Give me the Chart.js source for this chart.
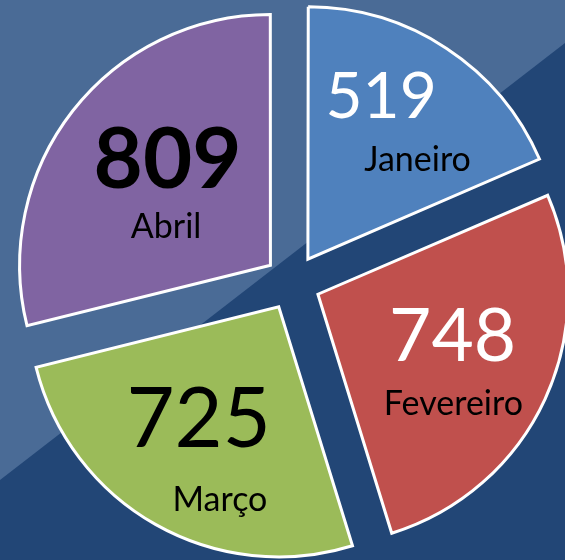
<!DOCTYPE html>
<html>
<head>
<meta charset="utf-8">
<script src="https://cdn.jsdelivr.net/npm/chart.js@4.4.1/dist/chart.umd.min.js"></script>
<style>
  body { margin: 0; background: #224676; }
  #wrap { width: 565px; height: 560px; }
</style>
</head>
<body>
<div id="wrap"><canvas id="pieChart" width="565" height="560"></canvas></div>
<script>
const meses = ["Janeiro", "Fevereiro", "Março", "Abril"];
const valores = [519, 748, 725, 809];
const cores = ["#4f81bd", "#c0504d", "#9bbb59", "#8064a2"];

// where each label sits inside its slice: angle shift from slice middle (deg), fraction of radius
const posValor = [[-8.0, 0.828], [-6.6, 0.674], [5.5, 0.656], [7.0, 0.707]];
const posNome = [[12.0, 0.703], [12.05, 0.804], [-10.9, 0.913], [-13.9, 0.554]];
const estiloValor = [
  { size: 64, weight: "normal", color: "#ffffff" },
  { size: 73, weight: "normal", color: "#ffffff" },
  { size: 83, weight: "normal", color: "#000000" },
  { size: 85, weight: "bold", color: "#000000" },
];
const tamNome = 34;
const fonte = "Lato, 'Open Sans', sans-serif";

// two tone diagonal background
const fundo = {
  id: "fundo",
  beforeDraw(chart) {
    const ctx = chart.ctx;
    const w = chart.width, h = chart.height;
    ctx.save();
    ctx.fillStyle = "#224676";
    ctx.fillRect(0, 0, w, h);
    ctx.fillStyle = "#4a6b96";
    ctx.beginPath();
    ctx.moveTo(0, 0);
    ctx.lineTo(w, 0);
    ctx.lineTo(w, h * 0.077);
    ctx.lineTo(0, h * 0.857);
    ctx.closePath();
    ctx.fill();
    ctx.restore();
  },
};

const rotulos = {
  id: "rotulos",
  afterDatasetsDraw(chart) {
    const ctx = chart.ctx;
    const meta = chart.getDatasetMeta(0);
    meta.data.forEach((arc, i) => {
      const p = arc.getProps(["x", "y", "startAngle", "endAngle", "outerRadius"], true);
      const mid = (p.startAngle + p.endAngle) / 2;
      const put = (pos) => {
        const a = mid + (pos[0] * Math.PI) / 180;
        return [p.x + Math.cos(a) * pos[1] * p.outerRadius, p.y + Math.sin(a) * pos[1] * p.outerRadius];
      };
      ctx.save();
      ctx.textAlign = "center";
      ctx.textBaseline = "alphabetic";
      const ev = estiloValor[i];
      const [vx, vy] = put(posValor[i]);
      ctx.fillStyle = ev.color;
      ctx.font = ev.weight + " " + ev.size + "px " + fonte;
      ctx.fillText(String(valores[i]), vx, vy + ev.size * 0.358);
      const [nx, ny] = put(posNome[i]);
      ctx.fillStyle = "#000000";
      ctx.font = tamNome + "px " + fonte;
      ctx.fillText(meses[i], nx, ny + tamNome * 0.358);
      ctx.restore();
    });
  },
};

const ctx = document.getElementById("pieChart").getContext("2d");
const pieChart = new Chart(ctx, {
  type: "pie",
  data: {
    labels: meses,
    datasets: [
      {
        data: valores,
        backgroundColor: cores,
        borderColor: "#ffffff",
        borderWidth: 3,
        borderJoinStyle: "miter",
        offset: 112,
      },
    ],
  },
  options: {
    responsive: false,
    animation: false,
    radius: 250,
    layout: { padding: { left: 20, top: 5, right: 0, bottom: 0 } },
    plugins: {
      legend: { display: false },
      tooltip: { enabled: false },
    },
  },
  plugins: [fundo, rotulos],
});
</script>
</body>
</html>
